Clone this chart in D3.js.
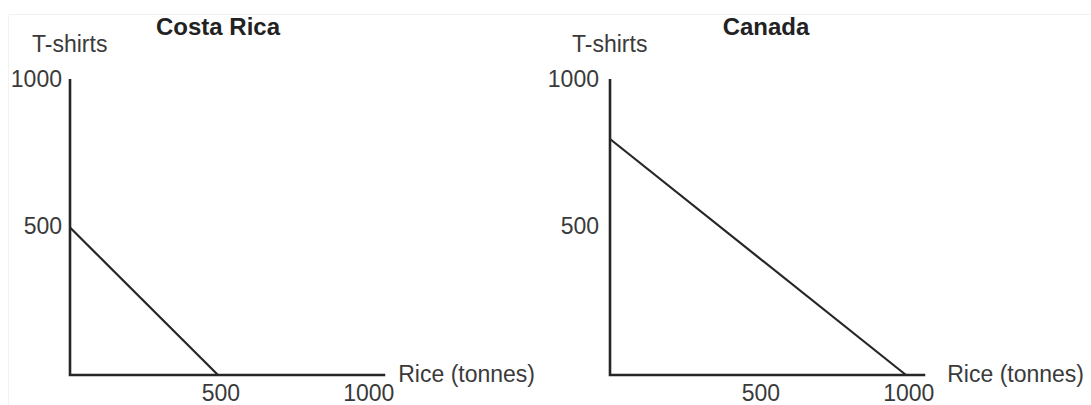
<!DOCTYPE html>
<html>
<head>
<meta charset="utf-8">
<script src="https://cdn.jsdelivr.net/npm/d3@7"></script>
<style>
  html, body { margin: 0; padding: 0; background: #fff; }
  svg { display: block; font-family: "Liberation Sans", Arial, Helvetica, sans-serif; }
</style>
</head>
<body>
<svg id="chart" width="1091" height="405"></svg>
<script>
// ---- data ----
const countries = ["Costa Rica", "Canada"];
const tshirtMax = [500, 800];     // T-shirts produced when all resources go to T-shirts
const riceMax = [500, 1000];      // Rice (tonnes) produced when all resources go to rice
const xTickValues = [500, 1000];
const yTickValues = [500, 1000];
const xAxisLabel = "Rice (tonnes)";
const yAxisLabel = "T-shirts";

// ---- layout ----
const svg = d3.select("#chart");
const panelLeft = [70, 610];
const plotW = 296;
const baseY = 375;
const topY = 80;
const labelColor = "#3a3a3a";
const lineColor = "#262626";

// faint frame
svg.append("path")
  .attr("d", "M8.5,405 V14.5 H1091")
  .attr("fill", "none")
  .attr("stroke", "#f2f2f2")
  .attr("stroke-width", 1);

countries.forEach((name, i) => {
  const x = d3.scaleLinear().domain([0, 1000]).range([panelLeft[i], panelLeft[i] + plotW]);
  const y = d3.scaleLinear().domain([0, 1000]).range([baseY, topY]);
  const g = svg.append("g");

  // axis lines
  g.append("path")
    .attr("d", `M${x(0)},${y(1003)} V${y(0)} H${x(1065)}`)
    .attr("fill", "none")
    .attr("stroke", lineColor)
    .attr("stroke-width", 2.6);

  // tick labels
  const xAxis = g.append("g")
    .attr("transform", `translate(0,${y(0)})`)
    .call(d3.axisBottom(x).tickValues(xTickValues).tickSize(0).tickPadding(10).tickFormat(d3.format("d")));
  const yAxis = g.append("g")
    .attr("transform", `translate(${x(0)},0)`)
    .call(d3.axisLeft(y).tickValues(yTickValues).tickSize(0).tickPadding(i === 0 ? 8 : 11).tickFormat(d3.format("d")));
  [xAxis, yAxis].forEach(a => {
    a.select(".domain").remove();
    a.selectAll("text")
      .attr("font-size", 23)
      .attr("font-family", "'Liberation Sans', Arial, sans-serif")
      .attr("fill", labelColor);
  });
  yAxis.selectAll("text").attr("dy", "0.28em");
  xAxis.selectAll("text").attr("dx", "0.1em");

  // PPF line
  const line = d3.line().x(d => x(d[0])).y(d => y(d[1]));
  g.append("path")
    .datum([[0, tshirtMax[i]], [riceMax[i], 0]])
    .attr("d", line)
    .attr("fill", "none")
    .attr("stroke", lineColor)
    .attr("stroke-width", 2.2);

  // axis titles
  g.append("text")
    .attr("x", x(0) - 38)
    .attr("y", 52)
    .attr("font-size", 23)
    .attr("fill", labelColor)
    .text(yAxisLabel);
  g.append("text")
    .attr("x", i === 0 ? x(1065) + 13 : x(1065) + 22)
    .attr("y", 382)
    .attr("font-size", 23)
    .attr("fill", labelColor)
    .text(xAxisLabel);

  // panel title
  g.append("text")
    .attr("x", i === 0 ? 218 : 766)
    .attr("y", 35)
    .attr("text-anchor", "middle")
    .attr("font-size", 24)
    .attr("font-weight", "bold")
    .attr("fill", "#222")
    .text(name);
});
</script>
</body>
</html>
